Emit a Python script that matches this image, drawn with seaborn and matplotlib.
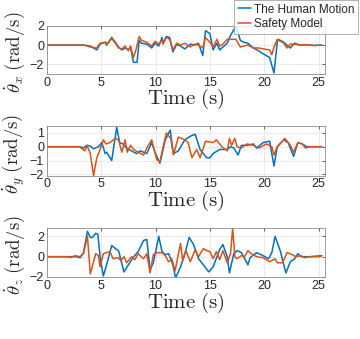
import numpy as np
import pandas as pd
import matplotlib
matplotlib.use("Agg")
import matplotlib.pyplot as plt
import seaborn as sns

# ---------------- data (breakpoints) ----------------
series_names = ["The Human Motion", "Safety Model"]
colors = ["#0072BD", "#D95319"]

# theta_x
x_h_t = [0, 3.4, 4.0, 4.6, 4.9, 5.4, 5.5, 5.97, 6.3, 6.6, 6.9, 7.2, 7.5, 7.7, 7.97, 8.3, 8.5, 8.7, 9.2, 9.65,
         9.96, 10.3, 10.6, 10.7, 11.0, 11.3, 11.6, 11.96, 12.3, 12.7, 13.2, 13.6, 13.95, 14.35, 14.6, 15.0, 15.3,
         15.65, 15.9, 16.2, 16.6, 16.9, 17.4, 17.8, 18.1, 18.5, 19.0, 19.5, 19.9, 20.5, 20.9, 21.2, 21.3, 21.8,
         22.4, 22.8, 23.3, 23.9, 24.5, 25.3]
x_h_v = [0, 0, -0.1, -0.5, 0.1, 0.3, 0, 0.8, 0.3, -0.2, -0.5, -0.3, -0.5, -0.2, -1.8, -1.8, 0.5, 0.2, 0.1, -0.3,
         0.2, -0.1, 0.8, 0.2, 0.9, 0.8, -0.7, 0.1, -0.1, -0.4, 0.1, 0, 0.2, -1.1, 1.5, 1.2, -0.5,
         0.2, -0.5, -0.2, 0.2, 1.0, 2.0, 0.5, 0.3, 0.2, -0.3, -0.6, -0.9, -1.3, -2.9, 0.3, 0.6, 0.3,
         -0.3, 0.2, 0, 0.05, -0.03, 0]
x_s_t = [0, 3.4, 4.0, 4.6, 4.9, 5.4, 5.5, 5.97, 6.3, 6.6, 6.9, 7.2, 7.5, 7.7, 7.97, 8.2, 8.5, 8.7, 9.2, 9.65,
         9.96, 10.3, 10.6, 10.7, 11.0, 11.3, 11.6, 11.96, 12.3, 12.7, 13.2, 13.6, 13.95, 14.35, 14.6, 15.0, 15.3,
         15.65, 15.9, 16.2, 16.6, 16.9, 17.4, 17.8, 18.1, 18.5, 19.0, 19.5, 19.9, 20.5, 20.7, 20.9, 21.2, 21.5,
         21.8, 22.1, 22.4, 22.8, 23.3, 24.0, 24.6, 25.3]
x_s_v = [0, 0, -0.2, -0.3, 0.2, 0.3, 0, 0.7, 0.2, -0.3, -0.4, -0.1, -0.6, -0.1, -1.3, -0.5, 0.9, 0.5, 0.3, -0.1,
         0.4, 0.1, 0.5, 0.1, 0.8, 0.6, -0.5, 0.2, 0.0, 0.2, -0.2, 0.1, 0, -0.3, 0.8, 0.3, -0.2,
         0.6, -0.1, 0.1, 0.6, 0.6, 0.6, -0.2, -0.1, 0, -0.3, -0.3, -0.4, -0.5, -1.0, -0.2, 0.6, 0.4,
         0.2, -0.3, 0.1, 0.1, 0, 0.05, -0.05, 0]

# theta_y
y_h_t = [0, 3.06, 3.37, 3.68, 3.98, 4.3, 4.75, 5.06, 5.37, 5.5, 5.97, 6.43, 6.7, 7.0, 7.35, 7.8, 8.25, 8.6, 8.9,
         9.2, 9.65, 9.95, 10.4, 10.9, 11.35, 11.65, 12.1, 12.7, 13.3, 13.65, 14.1, 14.7, 15.0, 15.3, 15.9, 16.6,
         16.9, 17.2, 17.6, 17.9, 18.4, 19.0, 19.3, 19.9, 20.5, 20.9, 21.2, 21.8, 22.2, 22.7, 23.1, 23.5, 23.9, 25.3]
y_h_v = [0, 0, -0.1, 0.1, 0.05, -0.15, 0, 0.3, -0.5, -0.4, -1.0, 1.4, 0.3, 0.2, -0.1, -0.3, -0.5, -0.3, -0.4,
         -0.5, 0.3, -0.4, -1.2, 0.5, 1.2, -0.5, -0.3, 0.5, 0.8, 0.9, -0.2, -0.8, -0.8, -0.5, -0.2, -0.2,
         0.0, -0.1, -0.6, 0.1, 0.1, 0.2, -0.1, 0.3, 0.4, -1.4, 0, 0.5, 0.3, -0.7, 0.3, 0.2, 0, 0]
y_s_t = [0, 3.0, 3.5, 3.7, 4.0, 4.3, 4.6, 4.9, 5.2, 5.45, 5.8, 6.3, 6.6, 6.9, 7.2, 7.4, 7.7, 8.0, 8.4, 8.9, 9.2,
         9.65, 10.1, 10.4, 10.7, 11.0, 11.4, 11.65, 12.1, 12.7, 13.0, 13.35, 13.8, 14.1, 14.6, 15.3, 15.6, 16.1,
         16.6, 16.8, 17.0, 17.3, 17.5, 17.9, 18.4, 19.0, 19.5, 20.2, 20.7, 20.9, 21.2, 21.9, 22.4, 22.7, 23.1,
         23.5, 23.8, 24.2, 25.3]
y_s_v = [0, 0, -0.3, 0.1, -0.5, -2.1, -0.8, -0.2, 0.5, 0.2, 0.3, 0.6, 0.5, -0.4, 0.5, -0.4, 0.1, -0.2, -0.4,
         -0.6, -0.1, 0.5, -0.9, -1.1, 0, 1.0, 0.6, -0.6, 0.7, 0.5, 0.3, -0.8, -0.2, -0.8, 0.4, 0.3, 0.5, 0,
         -0.3, 0.6, 0.1, 0.6, 0, -0.1, 0.2, 0.1, -0.1, 0.2, 0, -0.6, 0, 0.6, 0.1, -0.4, 0.3, 0.2, -0.1, 0, 0]

# theta_z
z_h_t = [0, 2.75, 3.06, 3.37, 3.74, 4.0, 4.2, 4.5, 4.7, 4.9, 5.2, 5.5, 5.97, 6.3, 6.6, 7.1, 7.5, 8.0, 8.4, 8.9,
         9.2, 9.5, 9.8, 10.3, 10.6, 10.9, 11.2, 11.6, 11.85, 12.3, 12.7, 13.1, 13.5, 13.96, 14.4, 14.9, 15.3,
         15.9, 16.2, 16.6, 16.8, 17.2, 17.5, 17.9, 18.5, 18.7, 19.3, 19.9, 20.4, 20.7, 21.0, 21.5, 21.8, 22.0,
         22.4, 22.8, 23.1, 23.4, 24.2, 25.3]
z_h_v = [0, 0, -0.1, 0.4, 2.5, 1.9, 1.9, 2.3, 2.2, 0, -1.9, -0.8, 1.1, 0.8, 0.6, -1.5, -0.8, 0, 0.5, 1.6,
         1.7, -1.3, -0.6, 2.0, 0.5, 0.2, 0.3, -0.8, -2.1, -1.0, 0.3, 1.9, 1.2, -0.2, -0.8, -1.5, -1.0,
         0.7, 1.2, 0.0, -1.6, 0.3, 0.6, 0.4, -0.8, -0.1, 0.4, 0.1, -0.2, 0.4, 2.0, 0.5, -0.8, -1.6,
         -0.5, -0.2, 0.3, 0.0, 0, 0.1]
z_s_t = [0, 2.0, 2.15, 2.6, 3.06, 3.37, 3.74, 4.0, 4.3, 4.5, 4.75, 4.9, 5.2, 5.5, 5.8, 6.1, 6.6, 6.8, 7.1, 7.35,
         7.8, 8.1, 8.4, 8.9, 9.2, 9.5, 9.8, 10.1, 10.6, 10.9, 11.2, 11.5, 11.8, 12.3, 12.5, 12.8, 13.2, 13.65,
         13.96, 14.4, 14.7, 15.0, 15.3, 15.6, 15.9, 16.2, 16.6, 16.9, 17.1, 17.3, 17.5, 17.9, 18.2, 18.5, 18.8,
         19.3, 19.9, 20.5, 21.0, 21.2, 21.7, 22.1, 22.6, 22.9, 23.4, 23.7, 24.2, 25.1, 25.3]
z_s_v = [0, 0, -0.1, 0.1, 0, 0.3, 2.0, -1.7, -0.5, 0.3, 0.1, -1.0, 0.3, 0.4, 0.5, -0.2, -0.1, -0.4, 0, -0.6,
         0, -0.3, 0.3, -0.2, 0.3, -1.6, 0.2, 0.4, 0.4, 0.1, -0.5, -0.2, -1.4, 1.3, -0.4, 0.6, -0.5, 0.7,
         0, 0.8, 0.6, 0.5, -0.2, 0.5, -0.3, 0.6, -0.6, 0.3, 2.8, 0.0, -0.2, 0.1, 0.0, 0.6, 0.3,
         0, -0.1, -0.5, -0.2, -0.6, -0.6, 0.4, 0.2, 0, 0.1, -0.1, 0, 0, 0.1]

panels = [
    ("x", (x_h_t, x_h_v), (x_s_t, x_s_v), (-3, 2), [-2, 0, 2]),
    ("y", (y_h_t, y_h_v), (y_s_t, y_s_v), (-2.1, 1.5), [-2, -1, 0, 1]),
    ("z", (z_h_t, z_h_v), (z_s_t, z_s_v), (-2.0, 2.8), [-2, 0, 2]),
]
xticks = [0, 5, 10, 15, 20, 25]

# ---------------- style ----------------
sns.set_theme(style="white")
plt.rcParams["font.family"] = ["Liberation Sans", "DejaVu Sans"]
plt.rcParams["mathtext.fontset"] = "cm"

fig = plt.figure(figsize=(3.6, 3.39), dpi=100)
positions = [
    [0.130, 0.782, 0.773, 0.1416],
    [0.130, 0.4817, 0.773, 0.1466],
    [0.130, 0.1829, 0.773, 0.1437],
]

handles = []
for pos, (comp, hum, saf, ylim, yticks) in zip(positions, panels):
    ax = fig.add_axes(pos)
    df_h = pd.DataFrame({"t": hum[0], "v": hum[1]})
    df_s = pd.DataFrame({"t": saf[0], "v": saf[1]})
    sns.lineplot(data=df_h, x="t", y="v", ax=ax, color=colors[0], linewidth=1.1,
                 estimator=None, label=series_names[0], legend=False)
    sns.lineplot(data=df_s, x="t", y="v", ax=ax, color=colors[1], linewidth=1.1,
                 estimator=None, label=series_names[1], legend=False)
    ax.set_xlim(0, 25.6)
    ax.set_ylim(*ylim)
    ax.set_xticks(xticks)
    ax.set_yticks(yticks)
    ax.grid(True, color="#e6e6e6", linewidth=0.6)
    ax.tick_params(axis="both", direction="in", length=2.5, width=0.5, labelsize=9,
                   colors="#262626", pad=2, top=True, right=True)
    for sp in ax.spines.values():
        sp.set_color("#8c8c8c")
        sp.set_linewidth(0.6)
    ax.set_xlabel(r"$\mathrm{Time\ (s)}$", fontsize=15, labelpad=-1, color="#262626")
    ax.set_ylabel(r"$\dot{\theta}_%s\;\mathrm{(rad/s)}$" % comp, fontsize=13.5, labelpad=1,
                  color="#262626")
    ax.yaxis.set_label_coords(-0.07, 0.45)
    if not handles:
        handles = ax.get_lines()[:2]

leg = fig.legend(handles, series_names, loc="upper right", bbox_to_anchor=(0.995, 1.0),
                 fontsize=8.5, frameon=True, fancybox=False, borderpad=0.3,
                 handlelength=1.1, handletextpad=0.3, labelspacing=0.25, borderaxespad=0)
leg.get_frame().set_edgecolor("#8c8c8c")
leg.get_frame().set_linewidth(0.6)

fig.savefig("out.png", dpi=100)
